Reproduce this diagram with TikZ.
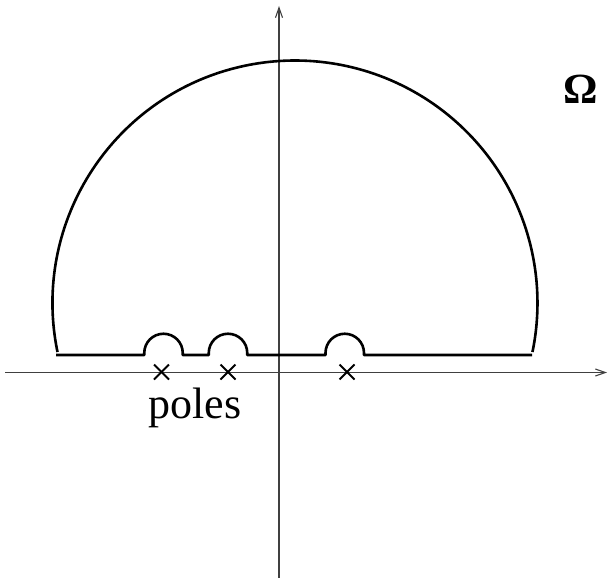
\documentclass[tikz,border=0pt]{standalone}
\usepackage{fontspec}
\setmainfont{Liberation Serif}
\usetikzlibrary{arrows.meta}
\begin{document}
\begin{tikzpicture}[x=1pt,y=-1pt,
  contour/.style={line width=2.6pt, line join=round},
  axis/.style={line width=1.1pt, draw=black!75, -{Straight Barb[length=10pt,width=7pt]}},
  pole/.style={line width=2pt},
  lab/.style={anchor=base, inner sep=0pt, font=\fontsize{44}{50}\selectfont}]
\useasboundingbox (0,0) rectangle (608,578);
% axes
\coordinate (xs) at (5,372.5);
\coordinate (xe) at (607,372.5);
\coordinate (ys) at (279,578);
\coordinate (ye) at (279,6);
\draw[axis] (xs) -- (xe);
\draw[axis] (ys) -- (ye);
% big arc
\draw[contour] (57.5,352) arc[start angle=168.34, end angle=371.66, radius=242.5];
% baseline with indentations
\draw[contour] (56,355) -- (144.25,355) -- (144.25,353)
  arc[start angle=180, end angle=360, radius=19.25] -- (182.75,355)
  -- (208.75,355) -- (208.75,353)
  arc[start angle=180, end angle=360, radius=19.25] -- (247.25,355)
  -- (325.5,355) -- (325.5,353)
  arc[start angle=180, end angle=360, radius=19.25] -- (364,355)
  -- (532,355);
% poles
\foreach \px/\nm in {161.5/p1, 228/p2, 347/p3} {
  \coordinate (\nm) at (\px,372);
  \draw[pole] ([shift={(-7.5,-7.5)}]\nm) -- ([shift={(7.5,7.5)}]\nm);
  \draw[pole] ([shift={(-7.5,7.5)}]\nm) -- ([shift={(7.5,-7.5)}]\nm);
}
% labels
\node[lab] (poles) at (195,418) {poles};
\node[lab, font=\fontsize{43}{48}\selectfont\bfseries] (omega) at (581,103) {Ω};
\end{tikzpicture}
\end{document}
